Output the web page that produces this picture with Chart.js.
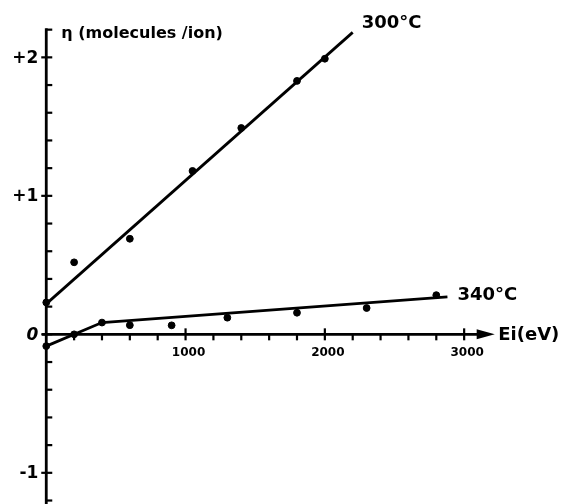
<!DOCTYPE html>
<html>
<head>
<meta charset="utf-8">
<script src="https://cdn.jsdelivr.net/npm/chart.js@4/dist/chart.umd.min.js"></script>
<style>
  html, body { margin: 0; padding: 0; background: #fff; }
  canvas { display: block; }
</style>
</head>
<body>
<canvas id="c" width="566" height="504"></canvas>
<script>
// ---- data ----
const series300Name = '300°C';
const series300E   = [0, 200, 600, 1050, 1400, 1800, 2000];
const series300Eta = [0.23, 0.52, 0.69, 1.18, 1.49, 1.83, 1.99];
const fit300E   = [0, 2200];
const fit300Eta = [0.22, 2.18];

const series340Name = '340°C';
const series340E   = [0, 200, 400, 600, 900, 1300, 1800, 2300, 2800];
const series340Eta = [-0.085, 0.0, 0.085, 0.066, 0.065, 0.12, 0.156, 0.19, 0.283];
const fit340E   = [0, 400, 2880];
const fit340Eta = [-0.085, 0.085, 0.27];

// axis ticks / labels
const xMajorTicks = [1000, 2000, 3000];
const xTickLabels = ['1000', '2000', '3000'];
const xMinorStep = 200;
const yMajorTicks = [-1, 0, 1, 2];
const yTickLabels = ['-1', '0', '+1', '+2'];
const yMinorStep = 0.2;
const xAxisTitle = 'Ei(eV)';
const yAxisTitle = 'η (molecules /ion)';

function pts(xs, ys) { return xs.map((x, i) => ({ x: x, y: ys[i] })); }

const axesPlugin = {
  id: 'crossAxes',
  beforeDatasetsDraw(chart) {
    const ctx = chart.ctx;
    const xs = chart.scales.x, ys = chart.scales.y;
    const X = v => xs.getPixelForValue(v);
    const Y = v => ys.getPixelForValue(v);
    ctx.save();
    ctx.strokeStyle = '#000';
    ctx.fillStyle = '#000';
    ctx.lineWidth = 2.8;
    ctx.lineCap = 'butt';
    const x0 = X(0), y0 = Y(0);
    // y axis
    ctx.beginPath();
    ctx.moveTo(x0, Y(2.21));
    ctx.lineTo(x0, Y(-1.25));
    ctx.stroke();
    // x axis
    ctx.beginPath();
    ctx.moveTo(X(-30), y0);
    ctx.lineTo(X(3120), y0);
    ctx.stroke();
    // arrow head
    ctx.beginPath();
    ctx.moveTo(X(3220), y0);
    ctx.lineTo(X(3090), y0 - 5);
    ctx.lineTo(X(3090), y0 + 5);
    ctx.closePath();
    ctx.fill();
    // y ticks
    ctx.lineWidth = 2.2;
    for (let v = -1.2; v <= 2.21; v += yMinorStep) {
      const r = Math.round(v * 10) / 10;
      const p = Y(r);
      const major = yMajorTicks.includes(r);
      ctx.beginPath();
      ctx.moveTo(x0 + (major ? -5 : 0), p);
      ctx.lineTo(x0 + 6, p);
      ctx.stroke();
    }
    // x ticks
    for (let v = xMinorStep; v <= 3000; v += xMinorStep) {
      const p = X(v);
      const major = xMajorTicks.includes(v);
      ctx.beginPath();
      ctx.moveTo(p, y0 + (major ? -6 : 0));
      ctx.lineTo(p, y0 + 6);
      ctx.stroke();
    }
    // y tick labels
    ctx.textBaseline = 'middle';
    ctx.textAlign = 'right';
    yMajorTicks.forEach((v, i) => {
      ctx.font = (v === 0 ? 'italic ' : '') + 'bold 17px "DejaVu Sans"';
      ctx.fillText(yTickLabels[i], x0 - 8, Y(v) + 1);
    });
    // x tick labels
    ctx.textAlign = 'center';
    ctx.font = 'bold 12px "DejaVu Sans"';
    xMajorTicks.forEach((v, i) => {
      ctx.fillText(xTickLabels[i], X(v) + 3, y0 + 19);
    });
    // axis titles
    ctx.textAlign = 'left';
    ctx.font = 'bold 18px "DejaVu Sans"';
    ctx.fillText(xAxisTitle, X(3245), y0 + 1);
    ctx.font = 'bold 16px "DejaVu Sans"';
    ctx.fillText(yAxisTitle, x0 + 15, 34);
    // series labels
    ctx.font = 'bold 18px "DejaVu Sans"';
    ctx.fillText(series300Name, X(fit300E[1]) + 9, Y(2.24) - 1);
    ctx.fillText(series340Name, X(fit340E[2]) + 10, Y(0.28));
    ctx.restore();
  }
};

new Chart(document.getElementById('c').getContext('2d'), {
  type: 'scatter',
  data: {
    datasets: [
      { label: series300Name, data: pts(series300E, series300Eta), pointRadius: 3.4,
        pointBackgroundColor: '#000', pointBorderColor: '#000', showLine: false },
      { label: series300Name + ' fit', data: pts(fit300E, fit300Eta), showLine: true,
        pointRadius: 0, borderColor: '#000', borderWidth: 2.8, tension: 0, fill: false },
      { label: series340Name, data: pts(series340E, series340Eta), pointRadius: 3.4,
        pointBackgroundColor: '#000', pointBorderColor: '#000', showLine: false },
      { label: series340Name + ' fit', data: pts(fit340E, fit340Eta), showLine: true,
        pointRadius: 0, borderColor: '#000', borderWidth: 2.8, tension: 0, fill: false }
    ]
  },
  options: {
    responsive: false,
    animation: false,
    layout: { padding: 0 },
    plugins: { legend: { display: false }, tooltip: { enabled: false } },
    scales: {
      x: { type: 'linear', min: -296.2, max: 3695.3, display: false },
      y: { type: 'linear', min: -1.189, max: 2.378, display: false }
    }
  },
  plugins: [axesPlugin]
});
</script>
</body>
</html>
